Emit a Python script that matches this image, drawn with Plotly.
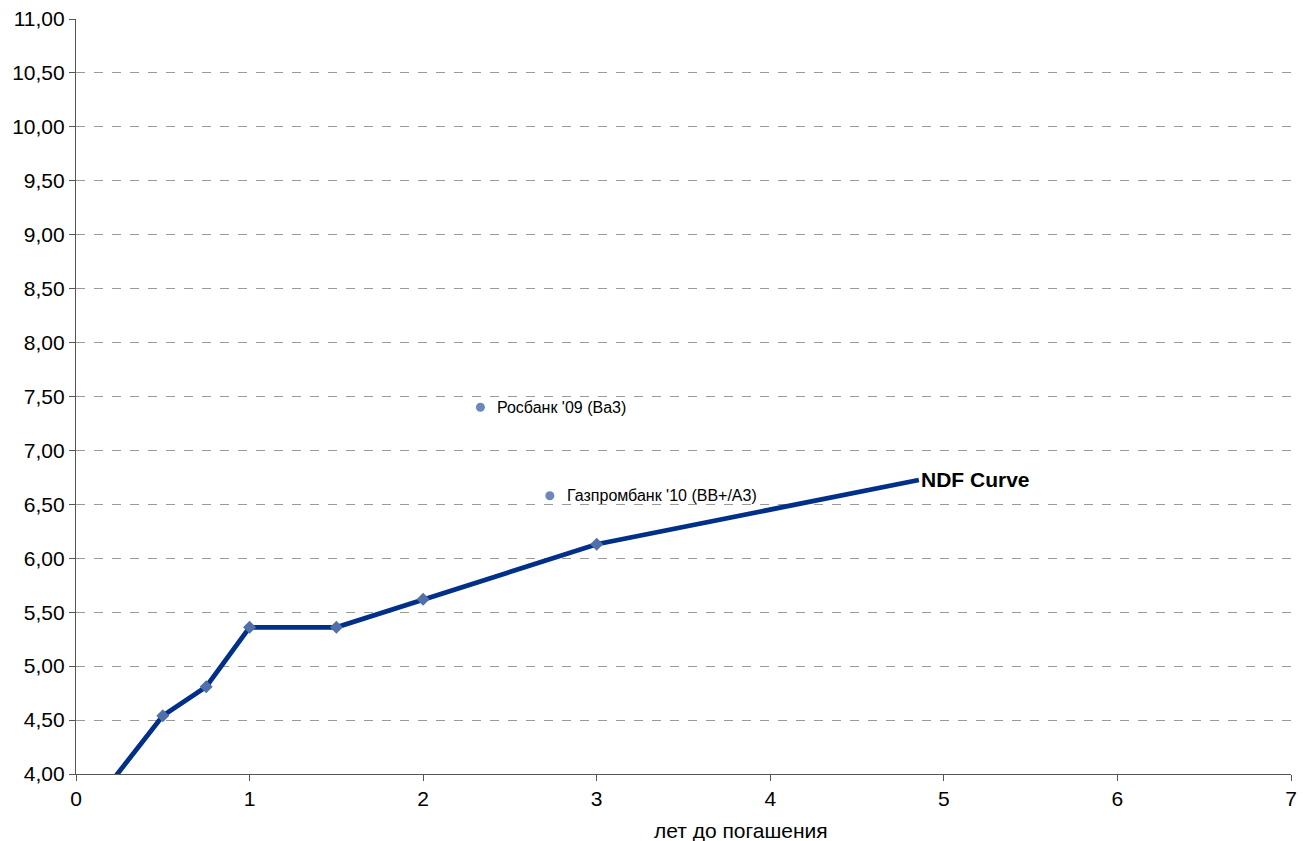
import plotly.graph_objects as go

# NDF curve data (years to maturity, yield %)
ndf_years = [0.083, 0.5, 0.75, 1.0, 1.5, 2.0, 3.0, 4.856]
ndf_yield = [3.68, 4.54, 4.81, 5.36, 5.36, 5.62, 6.13, 6.726]

# Bonds
bond_names = ["Росбанк '09 (Ba3)", "Газпромбанк '10 (BB+/A3)"]
bond_years = [2.33, 2.73]
bond_yield = [7.40, 6.58]

x_ticks = [0, 1, 2, 3, 4, 5, 6, 7]
y_ticks = [4.0, 4.5, 5.0, 5.5, 6.0, 6.5, 7.0, 7.5, 8.0, 8.5, 9.0, 9.5, 10.0, 10.5, 11.0]

FONT = "Liberation Sans, Arial, sans-serif"

fig = go.Figure()

fig.add_trace(go.Scatter(
    x=ndf_years, y=ndf_yield, mode="lines",
    line=dict(color="#003087", width=4.8),
    showlegend=False, hoverinfo="skip",
))
fig.add_trace(go.Scatter(
    x=ndf_years[1:-1], y=ndf_yield[1:-1], mode="markers",
    marker=dict(symbol="diamond", size=10, color="#4f70ab"),
    showlegend=False,
))
fig.add_trace(go.Scatter(
    x=bond_years, y=bond_yield, mode="markers",
    marker=dict(symbol="circle", size=9, color="#6b87bd"),
    showlegend=False,
))

for name, bx, by in zip(bond_names, bond_years, bond_yield):
    fig.add_annotation(x=bx, y=by, text=name, showarrow=False,
                       xanchor="left", yanchor="middle", xshift=15,
                       font=dict(family=FONT, size=16, color="#000000"))

fig.add_annotation(x=ndf_years[-1], y=ndf_yield[-1], text="<b>NDF Curve</b>",
                   showarrow=False, xanchor="left", yanchor="middle",
                   font=dict(family=FONT, size=21, color="#000000"))

fig.add_annotation(x=0.547, y=-0.075, xref="paper", yref="paper",
                   text="лет до погашения", showarrow=False,
                   xanchor="center", yanchor="middle",
                   font=dict(family=FONT, size=21, color="#000000"))

fig.update_layout(
    width=1303, height=841,
    margin=dict(l=76, r=12, t=19, b=67),
    paper_bgcolor="white", plot_bgcolor="white",
    separators=", ",
    font=dict(family=FONT, size=20, color="#000000"),
    xaxis=dict(range=[0, 7], tickvals=x_ticks, showgrid=False, zeroline=False,
               showline=True, linecolor="#555555", linewidth=1.2,
               ticks="outside", ticklen=6, tickcolor="#555555",
               ticklabeloverflow="allow", automargin=False,
               tickfont=dict(family=FONT, size=21, color="#000000"), fixedrange=True),
    yaxis=dict(range=[4, 11], tickvals=y_ticks, tickformat=".2f",
               showgrid=True, gridcolor="#9a9a9a", griddash="dash", gridwidth=1,
               zeroline=False, showline=True, linecolor="#555555", linewidth=1.2,
               ticks="outside", ticklen=6, tickcolor="#555555",
               ticklabeloverflow="allow", automargin=False,
               tickfont=dict(family=FONT, size=21, color="#000000"), fixedrange=True),
)

fig.write_html("out.html", config={"displayModeBar": False},
               post_script="document.body.style.margin='0';document.body.style.overflow='hidden';")
